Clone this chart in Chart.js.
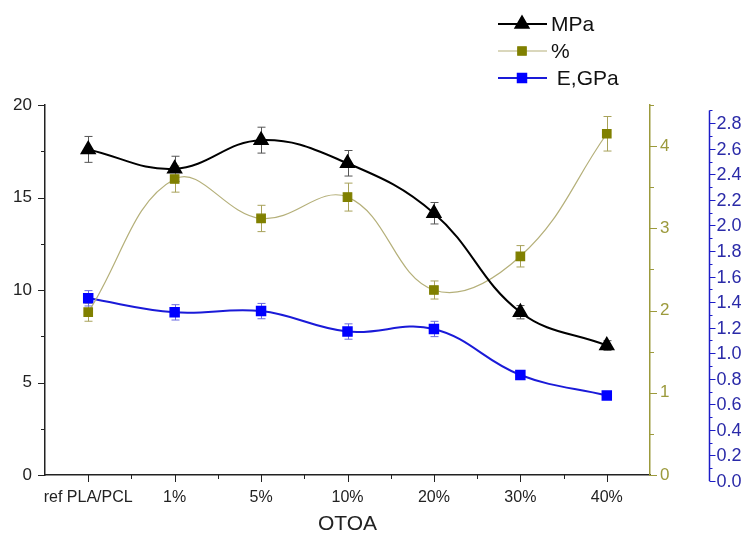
<!DOCTYPE html>
<html>
<head>
<meta charset="utf-8">
<script src="https://cdn.jsdelivr.net/npm/chart.js@4.4.0/dist/chart.umd.min.js"></script>
<style>
  html, body { margin: 0; padding: 0; background: #fff; }
  #wrap { position: relative; width: 747px; height: 537px; }
</style>
</head>
<body>
<div id="wrap"><canvas id="chart" width="747" height="537"></canvas></div>
<script>
// --- data ---
const categories = ['ref PLA/PCL', '1%', '5%', '10%', '20%', '30%', '40%'];

const mpa     = [17.6, 16.55, 18.1, 16.85, 14.15, 8.8, 7.0];
const mpaErr  = [0.7, 0.68, 0.7, 0.69, 0.58, 0.36, 0.26];

const pct     = [1.98, 3.6, 3.12, 3.38, 2.25, 2.66, 4.15];
const pctErr  = [0.11, 0.16, 0.16, 0.17, 0.11, 0.13, 0.21];

const gpa     = [1.43, 1.32, 1.33, 1.17, 1.19, 0.83, 0.67];
const gpaErr  = [0.06, 0.06, 0.06, 0.06, 0.06, 0.02, 0.02];

const mpaTicks = [0, 5, 10, 15, 20];
const pctTicks = [0, 1, 2, 3, 4];
const gpaTicks = [0.0, 0.2, 0.4, 0.6, 0.8, 1.0, 1.2, 1.4, 1.6, 1.8, 2.0, 2.2, 2.4, 2.6, 2.8];

const FONT = "Arial, 'Liberation Sans', sans-serif";
const OLIVE = '#808000';
const OLIVE_AXIS = '#9c9a3c';
const BLUE = '#0000ff';
const BLUE_AXIS = '#1c1cc8';
const BLUE_TEXT = '#2a2aa8';

const errs = { mpa: mpaErr, pct: pctErr, gpa: gpaErr };

// error bars under the markers
const errorBars = {
  id: 'errorBars',
  beforeDatasetsDraw(chart) {
    const ctx = chart.ctx;
    chart.data.datasets.forEach((ds, i) => {
      const meta = chart.getDatasetMeta(i);
      const sc = chart.scales[ds.yAxisID];
      const e = errs[ds.errKey];
      ctx.save();
      ctx.strokeStyle = ds.errColor;
      ctx.lineWidth = 1;
      meta.data.forEach((pt, j) => {
        const x = Math.round(pt.x) + 0.5;
        const y1 = sc.getPixelForValue(ds.data[j] + e[j]);
        const y2 = sc.getPixelForValue(ds.data[j] - e[j]);
        ctx.beginPath();
        ctx.moveTo(x, y1); ctx.lineTo(x, y2);
        ctx.moveTo(x - 4, y1); ctx.lineTo(x + 4, y1);
        ctx.moveTo(x - 4, y2); ctx.lineTo(x + 4, y2);
        ctx.stroke();
      });
      ctx.restore();
    });
  }
};

// tick marks for every axis, plus the blue axis drawn by hand
const axisMarks = {
  id: 'axisMarks',
  afterDraw(chart) {
    const ctx = chart.ctx;
    const { x, y, y1, y2 } = chart.scales;
    const area = chart.chartArea;
    ctx.save();
    ctx.lineWidth = 1;

    // left axis
    ctx.strokeStyle = '#222';
    mpaTicks.forEach((v, i) => {
      const p = Math.round(y.getPixelForValue(v)) + 0.5;
      ctx.beginPath(); ctx.moveTo(area.left, p); ctx.lineTo(area.left - 7, p); ctx.stroke();
      if (i < mpaTicks.length - 1) {
        const m = Math.round(y.getPixelForValue(v + 2.5)) + 0.5;
        ctx.beginPath(); ctx.moveTo(area.left, m); ctx.lineTo(area.left - 4, m); ctx.stroke();
      }
    });

    // bottom axis
    categories.forEach((c, i) => {
      const p = Math.round(x.getPixelForValue(i)) + 0.5;
      ctx.beginPath(); ctx.moveTo(p, area.bottom); ctx.lineTo(p, area.bottom + 7); ctx.stroke();
      if (i < categories.length - 1) {
        const m = Math.round((x.getPixelForValue(i) + x.getPixelForValue(i + 1)) / 2) + 0.5;
        ctx.beginPath(); ctx.moveTo(m, area.bottom); ctx.lineTo(m, area.bottom + 4); ctx.stroke();
      }
    });

    // % axis
    ctx.strokeStyle = OLIVE_AXIS;
    pctTicks.forEach(v => {
      const p = Math.round(y1.getPixelForValue(v)) + 0.5;
      ctx.beginPath(); ctx.moveTo(area.right, p); ctx.lineTo(area.right + 7, p); ctx.stroke();
      const m = Math.round(y1.getPixelForValue(v + 0.5)) + 0.5;
      ctx.beginPath(); ctx.moveTo(area.right, m); ctx.lineTo(area.right + 4, m); ctx.stroke();
    });

    // E, GPa axis
    const bx = Math.round(y2.left) + 0.5;
    const top = y2.getPixelForValue(2.9);
    const bot = y2.getPixelForValue(0);
    ctx.strokeStyle = BLUE_AXIS;
    ctx.lineWidth = 1.5;
    ctx.beginPath(); ctx.moveTo(bx, top); ctx.lineTo(bx, bot); ctx.stroke();
    ctx.lineWidth = 1;
    ctx.fillStyle = BLUE_TEXT;
    ctx.font = '18px ' + FONT;
    ctx.textAlign = 'left';
    ctx.textBaseline = 'middle';
    gpaTicks.forEach(v => {
      const p = Math.round(y2.getPixelForValue(v)) + 0.5;
      ctx.beginPath(); ctx.moveTo(bx, p); ctx.lineTo(bx + 6, p); ctx.stroke();
      const m = Math.round(y2.getPixelForValue(v + 0.1)) + 0.5;
      ctx.beginPath(); ctx.moveTo(bx, m); ctx.lineTo(bx + 3, m); ctx.stroke();
      ctx.fillText(v.toFixed(1), bx + 7, p + 1);
    });
    ctx.restore();
  }
};

// legend: line with the marker in its middle
const lineLegend = {
  id: 'lineLegend',
  afterDraw(chart) {
    const ctx = chart.ctx;
    const rows = [24, 51, 78];
    ctx.save();
    ctx.font = '21px ' + FONT;
    ctx.textBaseline = 'middle';
    ctx.fillStyle = '#111';
    chart.data.datasets.forEach((ds, i) => {
      const yy = rows[i];
      ctx.strokeStyle = ds.borderColor;
      ctx.lineWidth = ds.borderWidth;
      ctx.beginPath(); ctx.moveTo(498, yy); ctx.lineTo(547, yy); ctx.stroke();
      ctx.fillStyle = ds.pointBackgroundColor;
      ctx.strokeStyle = ds.pointBorderColor;
      Chart.helpers.drawPoint(ctx, { pointStyle: ds.pointStyle, radius: ds.pointRadius, rotation: 0, borderWidth: 1 }, 522, yy);
      ctx.fillStyle = '#111';
      ctx.fillText(ds.label, 551, yy + 1);
    });
    ctx.restore();
  }
};

const tickFont = { family: FONT, size: 16 };

new Chart(document.getElementById('chart'), {
  type: 'line',
  data: {
    labels: categories,
    datasets: [
      {
        label: 'MPa', data: mpa, yAxisID: 'y', errKey: 'mpa', errColor: '#555',
        borderColor: '#000', borderWidth: 2, tension: 0.4,
        pointStyle: 'triangle', pointRadius: 7.5,
        pointBackgroundColor: '#000', pointBorderColor: '#000'
      },
      {
        label: '%', data: pct, yAxisID: 'y1', errKey: 'pct', errColor: '#a8a25a',
        borderColor: '#b5b07a', borderWidth: 1.2, tension: 0.4,
        pointStyle: 'rect', pointRadius: 6,
        pointBackgroundColor: OLIVE, pointBorderColor: OLIVE
      },
      {
        label: ' E,GPa', data: gpa, yAxisID: 'y2', errKey: 'gpa', errColor: '#6a6ae0',
        borderColor: '#1a1ad8', borderWidth: 2, tension: 0.4,
        pointStyle: 'rect', pointRadius: 6,
        pointBackgroundColor: BLUE, pointBorderColor: BLUE
      }
    ]
  },
  options: {
    responsive: false,
    animation: false,
    layout: { padding: { top: 105, left: 0, right: 0, bottom: 0 } },
    plugins: { legend: { display: false }, tooltip: { enabled: false } },
    scales: {
      x: {
        type: 'category', offset: true,
        grid: { display: true, drawOnChartArea: false, tickLength: 7, color: 'rgba(0,0,0,0)' },
        border: { color: '#222', width: 1.5 },
        ticks: { font: tickFont, color: '#222', padding: 6, maxRotation: 0, autoSkip: false },
        title: { display: true, text: 'OTOA', font: { family: FONT, size: 21 }, color: '#222', padding: 0 },
        afterFit: s => { s.height = 62; }
      },
      y: {
        position: 'left', min: 0, max: 20,
        grid: { display: true, drawOnChartArea: false, tickLength: 7, color: 'rgba(0,0,0,0)' },
        border: { color: '#222', width: 1.5 },
        ticks: { stepSize: 5, font: { family: FONT, size: 17 }, color: '#222', padding: 6 },
        afterFit: s => { s.width = 45; }
      },
      y1: {
        position: 'right', weight: 0, min: 0, max: 4.5,
        grid: { display: true, drawOnChartArea: false, tickLength: 7, color: 'rgba(0,0,0,0)' },
        border: { color: OLIVE_AXIS, width: 1.5 },
        ticks: { stepSize: 1, includeBounds: false, font: { family: FONT, size: 17 }, color: OLIVE_AXIS, padding: 3 },
        afterFit: s => { s.width = 59; }
      },
      y2: {
        position: 'right', weight: 1, min: 0.047, max: 2.943,
        grid: { display: false },
        border: { display: false },
        ticks: { display: false },
        afterFit: s => { s.width = 38; }
      }
    }
  },
  plugins: [errorBars, axisMarks, lineLegend]
});
</script>
</body>
</html>
